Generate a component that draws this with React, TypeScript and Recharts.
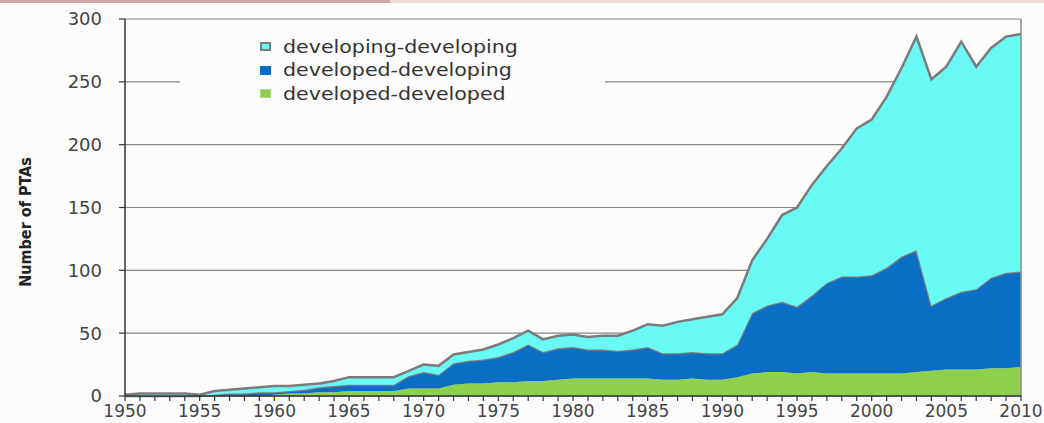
import React from 'react';
import { AreaChart, Area, XAxis, YAxis, CartesianGrid, ReferenceLine } from 'recharts';

const years: number[] = [
  1950, 1951, 1952, 1953, 1954, 1955, 1956, 1957, 1958, 1959,
  1960, 1961, 1962, 1963, 1964, 1965, 1966, 1967, 1968, 1969,
  1970, 1971, 1972, 1973, 1974, 1975, 1976, 1977, 1978, 1979,
  1980, 1981, 1982, 1983, 1984, 1985, 1986, 1987, 1988, 1989,
  1990, 1991, 1992, 1993, 1994, 1995, 1996, 1997, 1998, 1999,
  2000, 2001, 2002, 2003, 2004, 2005, 2006, 2007, 2008, 2009,
  2010,
];

// developed-developed (bottom, green)
const developedDeveloped: number[] = [
  0, 0, 0, 0, 0, 0, 0, 0, 0, 0,
  1, 2, 2, 3, 3, 4, 4, 4, 4, 6,
  6, 6, 9, 10, 10, 11, 11, 12, 12, 13,
  14, 14, 14, 14, 14, 14, 13, 13, 14, 13,
  13, 15, 18, 19, 19, 18, 19, 18, 18, 18,
  18, 18, 18, 19, 20, 21, 21, 21, 22, 22,
  23,
];

// developed-developing (middle, blue)
const developedDeveloping: number[] = [
  0, 0, 0, 0, 0, 0, 1, 2, 2, 3,
  2, 2, 3, 4, 5, 5, 5, 5, 5, 10,
  13, 11, 17, 18, 19, 20, 24, 29, 23, 25,
  25, 23, 23, 22, 23, 25, 21, 21, 21, 21,
  21, 26, 48, 53, 56, 53, 61, 72, 77, 77,
  78, 84, 93, 97, 52, 57, 62, 64, 72, 76,
  76,
];

// developing-developing (top, cyan)
const developingDeveloping: number[] = [
  1, 2, 2, 2, 2, 1, 3, 3, 4, 4,
  5, 4, 4, 3, 4, 6, 6, 6, 6, 4,
  6, 7, 7, 7, 8, 10, 11, 11, 10, 10,
  10, 10, 11, 12, 15, 18, 22, 25, 26, 29,
  31, 37, 42, 53, 69, 79, 88, 93, 102, 118,
  124, 136, 150, 170, 180, 184, 199, 177, 183, 188,
  189,
];

const yTicks: number[] = [0, 50, 100, 150, 200, 250, 300];
const seriesNames: string[] = ['developing-developing', 'developed-developing', 'developed-developed'];
const yAxisTitle = 'Number of PTAs';

const COLORS = {
  gg: '#69FAF6',
  dg: '#0A6FC4',
  dd: '#8ED04E',
  outline: '#7B7B7B',
};

const data = years.map((y, i) => ({
  year: y,
  dd: developedDeveloped[i],
  dg: developedDeveloping[i],
  gg: developingDeveloping[i],
}));

const YTitle = () => (
  <text
    x={25}
    y={222}
    transform="rotate(-90, 25, 222)"
    textAnchor="middle"
    dominantBaseline="central"
    fontWeight="bold"
    fontSize={16}
    fontFamily="'Liberation Sans Narrow', 'DejaVu Sans Condensed', 'Liberation Sans', sans-serif"
    fill="#222"
  >
    {yAxisTitle}
  </text>
);

const tickFont = "'DejaVu Sans', Verdana, sans-serif";

export default function App() {
  const markers = [
    { bg: COLORS.gg, border: `2px solid ${COLORS.outline}` },
    { bg: COLORS.dg, border: `1px solid ${COLORS.dg}` },
    { bg: COLORS.dd, border: '1px solid #a9da82' },
  ];
  return (
    <div
      style={{
        position: 'absolute',
        left: 0,
        top: 0,
        width: 1044,
        height: 423,
        background: '#fcfcfc',
        overflow: 'hidden',
      }}
    >
      <div style={{ position: 'absolute', left: 0, top: 0, width: 390, height: 3, background: '#cfa9a6' }} />
      <div style={{ position: 'absolute', left: 390, top: 0, width: 654, height: 3, background: '#ecdcd2' }} />
      <AreaChart
        width={1044}
        height={423}
        data={data}
        margin={{ top: 19, right: 23, left: 0, bottom: 0 }}
      >
        <CartesianGrid horizontal vertical={false} stroke="#858585" strokeWidth={1.2} />
        <XAxis
          dataKey="year"
          type="number"
          domain={[1950, 2010]}
          ticks={years}
          interval={0}
          height={27}
          tickSize={5}
          tickMargin={4}
          tickFormatter={(v: number) => (v % 5 === 0 ? String(v) : '')}
          axisLine={{ stroke: '#333', strokeWidth: 1.5 }}
          tickLine={{ stroke: '#333', strokeWidth: 1.2 }}
          tick={{ fill: '#444', fontSize: 17, fontFamily: tickFont }}
        />
        <YAxis
          type="number"
          domain={[0, 300]}
          ticks={yTicks}
          interval={0}
          width={125}
          tickSize={6}
          tickMargin={17}
          axisLine={{ stroke: '#333', strokeWidth: 1.5 }}
          tickLine={{ stroke: '#333', strokeWidth: 1.2 }}
          tick={{ fill: '#444', fontSize: 18, fontFamily: tickFont }}
          label={<YTitle />}
        />
        <Area
          type="linear"
          dataKey="dd"
          name={seriesNames[2]}
          stackId="1"
          stroke="none"
          fill={COLORS.dd}
          fillOpacity={1}
          dot={false}
          activeDot={false}
          isAnimationActive={false}
        />
        <Area
          type="linear"
          dataKey="dg"
          name={seriesNames[1]}
          stackId="1"
          stroke={COLORS.outline}
          strokeWidth={2.5}
          fill={COLORS.dg}
          fillOpacity={1}
          dot={false}
          activeDot={false}
          isAnimationActive={false}
        />
        <Area
          type="linear"
          dataKey="gg"
          name={seriesNames[0]}
          stackId="1"
          stroke={COLORS.outline}
          strokeWidth={2.5}
          fill={COLORS.gg}
          fillOpacity={1}
          dot={false}
          activeDot={false}
          isAnimationActive={false}
        />
        <ReferenceLine x={2010} stroke="#8a8a8a" strokeWidth={1.5} />
      </AreaChart>
      <div
        style={{
          position: 'absolute',
          left: 180,
          top: 30,
          width: 425,
          height: 80,
          background: '#fcfcfc',
        }}
      >
        {seriesNames.map((name, i) => (
          <div
            key={name}
            style={{
              position: 'absolute',
              left: 80,
              top: 5 + i * 23.5,
              height: 23,
              display: 'flex',
              alignItems: 'center',
            }}
          >
            <div
              style={{
                width: 11,
                height: 9,
                boxSizing: 'border-box',
                background: markers[i].bg,
                border: markers[i].border,
                marginRight: 12,
              }}
            />
            <span
              style={{
                fontFamily: "'DejaVu Sans', sans-serif",
                fontSize: 17,
                color: '#333',
                display: 'inline-block',
                transform: 'scaleX(1.21)',
                transformOrigin: 'left center',
                whiteSpace: 'nowrap',
              }}
            >
              {name}
            </span>
          </div>
        ))}
      </div>
    </div>
  );
}
